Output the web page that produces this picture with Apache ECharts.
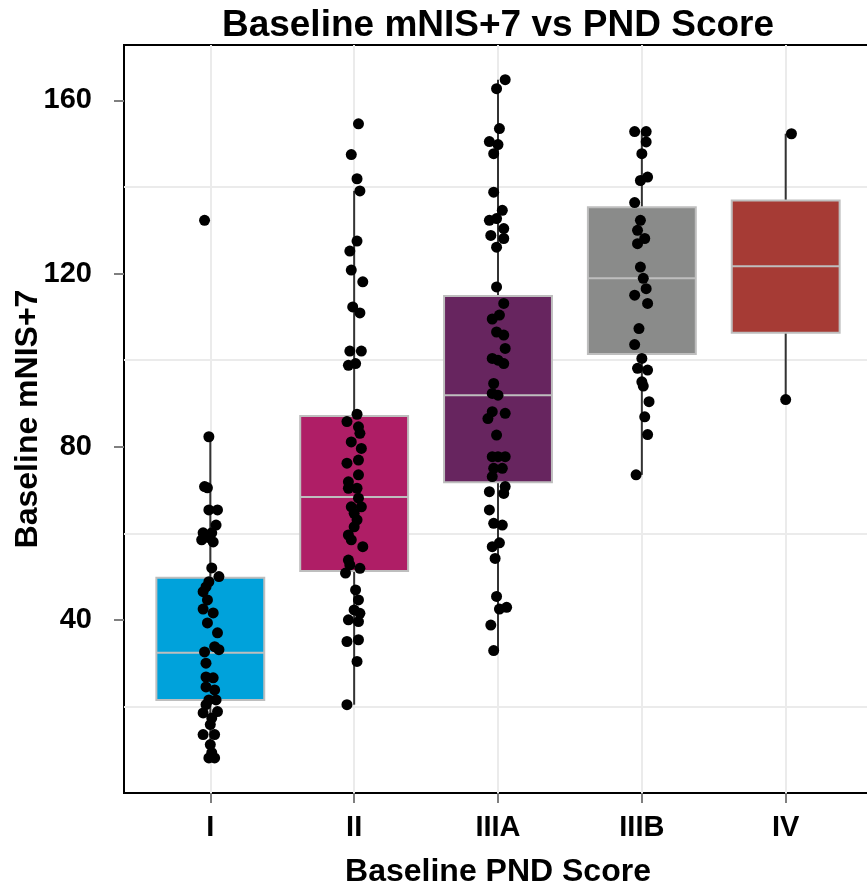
<!DOCTYPE html>
<html><head><meta charset="utf-8">
<script src="https://cdn.jsdelivr.net/npm/echarts@6/dist/echarts.min.js"></script>
<style>html,body{margin:0;padding:0;background:#fff}#c{width:867px;height:886px}</style>
</head><body><div id="c"></div>
<script>
// ---- data ----
const categories = ['I', 'II', 'IIIA', 'IIIB', 'IV'];
const boxColors = ['#00A2DB', '#AF1E66', '#67255F', '#8A8B8A', '#A63B35'];
const whiskerLow  = [8.1, 20.4, 32.9, 73.5, 90.9];
const q1          = [21.5, 51.3, 71.8, 101.4, 106.3];
const median      = [32.4, 68.4, 91.9, 118.9, 121.7];
const q3          = [49.7, 87.1, 114.8, 135.3, 136.9];
const whiskerHigh = [82.3, 139.1, 164.8, 152.8, 152.3];
const yTicks = [40, 80, 120, 160];

// jittered points: [horizontal jitter (category units), value]
const pointsI = [[-0.04,132.3],[-0.01,82.3],[-0.04,70.8],[-0.02,70.5],[-0.01,65.4],[0.05,65.4],[0.04,61.9],[-0.05,60.1],[0.01,60.1],[-0.01,59.0],[-0.06,58.5],[0.02,58.0],[0.01,52.0],[0.06,50.0],[-0.01,48.8],[-0.03,47.6],[-0.05,46.5],[-0.02,44.6],[-0.05,42.5],[0.02,41.6],[-0.02,39.3],[0.05,37.0],[0.03,33.8],[0.06,33.1],[-0.04,32.6],[-0.03,30.0],[-0.03,26.8],[0.02,26.6],[-0.03,24.5],[0.03,23.8],[-0.01,21.5],[0.04,21.5],[-0.03,20.4],[0.05,18.8],[-0.05,18.5],[0.01,17.3],[0.00,15.8],[-0.05,13.5],[0.03,13.5],[0.00,11.2],[0.01,9.3],[-0.01,8.1],[0.03,8.1]];
const pointsII = [[0.03,154.6],[-0.02,147.5],[0.02,141.9],[0.04,139.1],[0.02,127.5],[-0.03,125.2],[-0.02,120.8],[0.06,118.1],[-0.01,112.3],[0.04,110.9],[-0.03,102.1],[0.05,102.1],[-0.04,98.8],[0.01,99.2],[0.02,87.5],[-0.05,85.8],[0.03,84.6],[0.04,83.1],[-0.02,81.1],[0.05,79.6],[0.03,76.9],[-0.05,76.2],[0.03,73.5],[-0.04,71.9],[-0.04,70.4],[0.02,70.4],[0.03,68.1],[-0.02,66.1],[0.05,66.1],[0.00,64.6],[0.02,63.1],[0.00,61.5],[-0.04,59.6],[-0.02,58.5],[0.06,56.9],[-0.04,53.8],[-0.03,52.7],[0.04,51.9],[-0.06,50.8],[0.01,46.9],[0.03,44.6],[0.00,42.3],[0.04,41.5],[-0.04,40.0],[0.03,39.6],[-0.05,35.0],[0.03,35.4],[0.02,30.4],[-0.05,20.4]];
const pointsIIIA = [[0.05,164.8],[-0.01,162.7],[0.01,153.5],[-0.06,150.5],[0.00,149.8],[-0.03,147.7],[-0.03,138.8],[0.03,134.6],[-0.06,132.3],[-0.01,132.7],[0.04,130.4],[-0.05,128.8],[0.04,128.1],[-0.01,126.1],[-0.01,116.9],[0.04,113.1],[0.01,110.4],[-0.04,109.5],[-0.01,106.5],[0.04,105.8],[0.05,102.7],[-0.04,100.4],[0.00,100.0],[0.04,99.2],[-0.03,94.6],[-0.04,92.3],[0.00,91.9],[-0.04,88.1],[0.05,87.7],[-0.07,86.5],[-0.01,82.7],[-0.04,77.7],[0.05,77.7],[0.00,77.7],[0.03,75.0],[-0.03,75.0],[-0.04,73.1],[0.05,70.8],[-0.06,69.6],[0.04,69.2],[-0.06,65.4],[-0.03,62.3],[0.03,61.9],[-0.04,56.9],[0.01,57.8],[-0.02,54.2],[-0.01,45.4],[0.06,42.9],[0.01,42.5],[-0.05,38.8],[-0.03,32.9]];
const pointsIIIB = [[-0.05,152.8],[0.03,152.8],[0.03,150.4],[0.00,147.7],[-0.01,141.5],[0.04,142.3],[-0.05,136.4],[-0.01,132.3],[-0.03,130.0],[0.02,128.1],[-0.03,126.9],[-0.01,121.5],[0.01,118.9],[0.03,116.5],[-0.05,115.0],[0.04,113.1],[-0.02,107.3],[-0.05,103.6],[0.00,100.4],[-0.03,98.1],[0.04,97.7],[0.00,95.0],[0.01,94.0],[0.05,90.4],[0.02,86.9],[0.04,82.8],[-0.04,73.5]];
const pointsIV = [[0.04,152.3],[0.00,90.9]];
const pointGroups = [pointsI, pointsII, pointsIIIA, pointsIIIB, pointsIV];

// ---- build ----
const FONT = '"Liberation Sans", Arial, sans-serif';
const catPos = categories.map((c, i) => i + 1);
const boxData = categories.map((c, i) => [i + 1, whiskerLow[i], q1[i], median[i], q3[i], whiskerHigh[i]]);
const scatterData = [];
pointGroups.forEach((g, i) => g.forEach(p => scatterData.push([i + 1 + p[0], p[1]])));

const chart = echarts.init(document.getElementById('c'), null, {renderer: 'canvas'});
chart.setOption({
  animation: false,
  backgroundColor: '#fff',
  title: {
    text: 'Baseline mNIS+7 vs PND Score',
    left: 498, top: 7, padding: 0, textAlign: 'center',
    textStyle: {fontFamily: FONT, fontWeight: 'bold', fontSize: 37, color: '#000'}
  },
  grid: {left: 124, top: 45, right: -5, bottom: 93, show: true, borderColor: '#000', borderWidth: 2,
         backgroundColor: 'transparent', outerBoundsMode: 'none', containLabel: false},
  xAxis: {
    type: 'value', min: 0.4, max: 5.6,
    axisLine: {show: false},
    axisTick: {show: true, customValues: catPos, length: 10, lineStyle: {color: '#7f7f7f', width: 2}},
    axisLabel: {customValues: catPos, formatter: v => categories[Math.round(v) - 1],
                fontFamily: FONT, fontWeight: 'bold', fontSize: 29, color: '#000', margin: 20},
    splitLine: {show: true, lineStyle: {color: '#ebebeb', width: 2}},
    name: 'Baseline PND Score', nameLocation: 'middle', nameGap: 63, nameMoveOverlap: false,
    nameTextStyle: {fontFamily: FONT, fontWeight: 'bold', fontSize: 32, color: '#000'}
  },
  yAxis: [{
    type: 'value', min: 0, max: 172.8,
    axisLine: {show: false},
    axisTick: {show: true, customValues: yTicks, length: 10, lineStyle: {color: '#7f7f7f', width: 2}},
    axisLabel: {customValues: yTicks, fontFamily: FONT, fontWeight: 'bold', fontSize: 29, color: '#000', margin: 32},
    splitLine: {show: false},
    name: 'Baseline mNIS+7', nameLocation: 'middle', nameGap: 80, nameMoveOverlap: false,
    nameTextStyle: {fontFamily: FONT, fontWeight: 'bold', fontSize: 32, color: '#000'}
  }, {
    type: 'value', min: 0, max: 172.8, interval: 20, position: 'left',
    axisLine: {show: false}, axisTick: {show: false}, axisLabel: {show: false},
    splitLine: {show: true, showMinLine: false, showMaxLine: false,
                lineStyle: {color: ['#ebebeb', 'rgba(0,0,0,0)'], width: 2}}
  }],
  series: [{
    type: 'custom',
    z: 2,
    clip: true,
    data: boxData,
    encode: {x: 0, y: [1, 2, 3, 4, 5]},
    renderItem: function (params, api) {
      const x = api.value(0);
      const half = 0.375;
      const pLo = api.coord([x, api.value(1)]);
      const pA = api.coord([x, api.value(2)]);
      const pM = api.coord([x, api.value(3)]);
      const pB = api.coord([x, api.value(4)]);
      const pHi = api.coord([x, api.value(5)]);
      const tl = api.coord([x - half, api.value(4)]);
      const br = api.coord([x + half, api.value(2)]);
      const col = boxColors[params.dataIndex];
      return {type: 'group', children: [
        {type: 'line', shape: {x1: pLo[0], y1: pLo[1], x2: pA[0], y2: pA[1]}, style: {stroke: '#333', lineWidth: 2}},
        {type: 'line', shape: {x1: pB[0], y1: pB[1], x2: pHi[0], y2: pHi[1]}, style: {stroke: '#333', lineWidth: 2}},
        {type: 'rect', shape: {x: tl[0], y: tl[1], width: br[0] - tl[0], height: br[1] - tl[1]},
         style: {fill: col, stroke: '#bebebe', lineWidth: 2}},
        {type: 'line', shape: {x1: tl[0], y1: pM[1], x2: br[0], y2: pM[1]}, style: {stroke: '#bebebe', lineWidth: 2}}
      ]};
    }
  }, {
    type: 'scatter',
    z: 3,
    data: scatterData,
    symbol: 'circle',
    symbolSize: 11,
    itemStyle: {color: '#000', opacity: 1},
    emphasis: {disabled: true}
  }]
});
</script>
</body></html>
